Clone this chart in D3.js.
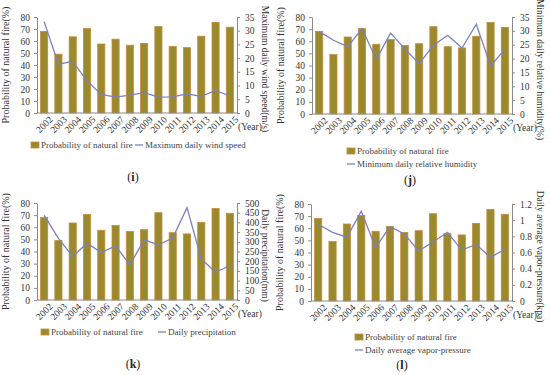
<!DOCTYPE html>
<html>
<head>
<meta charset="utf-8">
<script src="https://cdn.jsdelivr.net/npm/d3@7"></script>
<style>
  body { margin: 0; background: #fff; }
  svg { display: block; font-family: "Liberation Serif", "DejaVu Serif", serif; }
</style>
</head>
<body>
<svg id="chart" width="550" height="375"></svg>
<script>
var years = ["2002","2003","2004","2005","2006","2007","2008","2009","2010","2011","2012","2013","2014","2015"];
var fireProb = [68, 49, 63.5, 70.5, 57.5, 61.5, 56.5, 58, 72, 55.5, 54.5, 64, 75.5, 71.5];
var windSpeed = [33.3, 17.8, 18.8, 11.7, 6.8, 5.8, 6.5, 7.4, 5.8, 5.9, 7, 6.1, 8.2, 6.2];
var humidity = [29.8, 26.6, 24.3, 30.8, 19.7, 29.2, 23.5, 18.2, 24.8, 28.4, 23.8, 32.4, 17.4, 23.3];
var precip = [436, 318, 224, 293, 245, 279, 181, 310, 284, 319, 476, 212, 143, 178];
var vapor = [0.95, 0.85, 0.79, 1.11, 0.66, 0.92, 0.83, 0.62, 0.73, 0.85, 0.63, 0.70, 0.54, 0.64];
var leftTicks = [0, 10, 20, 30, 40, 50, 60, 70, 80];

var barColor = "#9a8a2e", barEdge = "#c98a3a", lineColor = "#7b80bf", axisColor = "#8a8a8a";

var svg = d3.select("#chart");

var panels = [
  { id: "i", x0: 37, x1: 237, y0: 17, y1: 113, max: 35, ticks: d3.range(0, 36, 5), values: windSpeed,
    title: "Maximum daily wind speed(m/s)", lineName: "Maximum daily wind speed",
    legend: "row", lx: 31, ly: 145, lx2: 135, label: [133, 181] },
  { id: "j", x0: 312, x1: 512, y0: 17, y1: 114, max: 35, ticks: d3.range(0, 36, 5), values: humidity,
    title: "Minimum daily relative humidity(%)", lineName: "Minimum daily relative humidity",
    legend: "col", lx: 347, ly: 151, label: [410, 184] },
  { id: "k", x0: 37, x1: 237, y0: 203, y1: 300, max: 500, ticks: d3.range(0, 501, 50), values: precip,
    title: "Daily precipitation(mm)", lineName: "Daily precipitation",
    legend: "row", lx: 41, ly: 332, lx2: 158, label: [133, 368] },
  { id: "l", x0: 311, x1: 512, y0: 204, y1: 301, max: 1.2, ticks: [0, 0.2, 0.4, 0.6, 0.8, 1, 1.2], values: vapor,
    title: "Daily average vapor-pressure(kpa)", lineName: "Daily average vapor-pressure",
    legend: "col", lx: 355, ly: 337, label: [402, 369] }
];

panels.forEach(function(p) {
  var g = svg.append("g");
  var x = d3.scaleBand().domain(years).range([p.x0, p.x1]).paddingInner(0.5).paddingOuter(0.25);
  var yL = d3.scaleLinear().domain([0, 80]).range([p.y1, p.y0]);
  var yR = d3.scaleLinear().domain([0, p.max]).range([p.y1, p.y0]);

  // bars
  g.selectAll("rect.bar")
    .data(fireProb)
    .enter()
    .append("rect")
    .attr("class", "bar")
    .attr("x", function(d, i) { return x(years[i]); })
    .attr("width", x.bandwidth())
    .attr("y", function(d) { return yL(d); })
    .attr("height", function(d) { return yL(0) - yL(d); })
    .attr("fill", barColor)
    .attr("stroke", barEdge)
    .attr("stroke-width", 0.8);

  // line
  var line = d3.line()
    .x(function(d, i) { return x(years[i]) + x.bandwidth() / 2; })
    .y(function(d) { return yR(d); });
  g.append("path")
    .datum(p.values)
    .attr("d", line)
    .attr("fill", "none")
    .attr("stroke", lineColor)
    .attr("stroke-width", 1.3);

  // left axis
  var axL = g.append("g")
    .attr("transform", "translate(" + p.x0 + ",0)")
    .call(d3.axisLeft(yL).tickValues(leftTicks).tickSize(3).tickSizeOuter(0).tickPadding(4));
  // right axis
  var axR = g.append("g")
    .attr("transform", "translate(" + p.x1 + ",0)")
    .call(d3.axisRight(yR).tickValues(p.ticks).tickSize(3).tickSizeOuter(0).tickPadding(5)
      .tickFormat(function(d) { return p.max < 2 ? d3.format("")(+d.toFixed(1)) : d; }));
  // bottom axis
  var axB = g.append("g")
    .attr("transform", "translate(0," + p.y1 + ")")
    .call(d3.axisBottom(x).tickSize(0).tickSizeOuter(0).tickPadding(3));
  axB.select(".domain").attr("d", "M" + p.x0 + ",0H" + p.x1);

  [axL, axR, axB].forEach(function(a) {
    a.selectAll(".domain, line").attr("stroke", axisColor);
    a.selectAll("text").attr("fill", "#333").style("font-family", "Liberation Serif").style("font-size", "9.5px");
  });
  axB.selectAll("text")
    .attr("text-anchor", "end")
    .attr("dy", "0.3em")
    .attr("transform", "translate(5,3) rotate(-45)");

  // axis titles
  g.append("text")
    .attr("transform", "translate(" + (p.x0 - 28) + "," + ((p.y0 + p.y1) / 2) + ") rotate(-90)")
    .attr("text-anchor", "middle")
    .attr("font-size", 10)
    .attr("fill", "#333")
    .text("Probability of natural fire(%)");
  g.append("text")
    .attr("transform", "translate(" + (p.x1 + 25) + "," + ((p.y0 + p.y1) / 2 + 4) + ") rotate(90)")
    .attr("text-anchor", "middle")
    .attr("font-size", 9.5)
    .attr("fill", "#333")
    .text(p.title);
  g.append("text")
    .attr("x", p.x1 + 1)
    .attr("y", p.y1 + 17)
    .attr("font-size", 9.5)
    .attr("fill", "#333")
    .text("(Year)");

  // legend
  var leg = g.append("g").attr("font-size", 9).attr("fill", "#444");
  var lx2 = p.legend === "row" ? p.lx2 : p.lx;
  var ly2 = p.legend === "row" ? p.ly : p.ly + 13;
  leg.append("rect").attr("x", p.lx).attr("y", p.ly - 3).attr("width", 8).attr("height", 6).attr("fill", barColor).attr("stroke", barEdge).attr("stroke-width", 0.8);
  leg.append("text").attr("x", p.lx + 10).attr("y", p.ly + 3).text("Probability of natural fire");
  leg.append("line").attr("x1", lx2).attr("x2", lx2 + 8).attr("y1", ly2).attr("y2", ly2).attr("stroke", lineColor).attr("stroke-width", 1.3);
  leg.append("text").attr("x", lx2 + 10).attr("y", ly2 + 3).text(p.lineName);

  // panel label
  var lab = g.append("text")
    .attr("x", p.label[0])
    .attr("y", p.label[1])
    .attr("text-anchor", "middle")
    .attr("font-size", 12)
    .attr("fill", "#222");
  lab.append("tspan").text("(");
  lab.append("tspan").attr("font-weight", "bold").text(p.id);
  lab.append("tspan").text(")");
});
</script>
</body>
</html>
